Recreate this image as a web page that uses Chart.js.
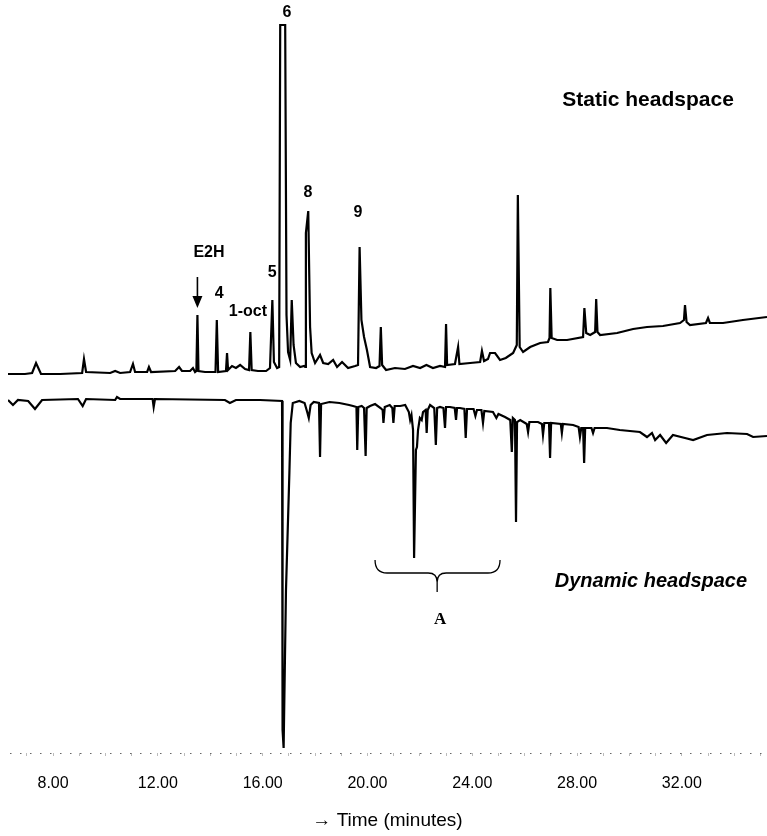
<!DOCTYPE html>
<html>
<head>
<meta charset="utf-8">
<title>Static vs dynamic headspace chromatogram</title>
<script src="https://cdn.jsdelivr.net/npm/chart.js@4.4.1/dist/chart.umd.min.js"></script>
<style>
    html, body { margin: 0; padding: 0; background: #fff; }
    #wrap { width: 767px; height: 836px; position: relative; }
</style>
</head>
<body>
<div id="wrap"><canvas id="chromChart"></canvas></div>
<script>
// Retention time (minutes) and detector response.
// Static headspace is plotted upwards, dynamic headspace mirrored downwards.
const staticTime = [
    6.28, 6.93, 7.20, 7.35, 7.54, 8.27, 9.11, 9.18, 9.26, 10.18, 10.37, 10.56, 10.94, 11.05, 11.13,
    11.59, 11.66, 11.74, 12.66, 12.81, 12.92, 13.23, 13.34, 13.42, 13.47, 13.51, 13.55, 13.80,
    14.20, 14.25, 14.30, 14.60, 14.64, 14.68, 14.83, 14.98, 15.14, 15.33, 15.48, 15.53, 15.58,
    15.82, 16.13, 16.28, 16.37, 16.43, 16.55, 16.63, 16.67, 16.71, 16.83, 16.86, 16.91, 16.97,
    17.05, 17.11, 17.18, 17.27, 17.43, 17.58, 17.62, 17.65, 17.74, 17.81, 17.87, 18.00, 18.19,
    18.31, 18.50, 18.69, 18.84, 19.03, 19.26, 19.53, 19.64, 19.70, 19.77, 19.87, 19.98, 20.10,
    20.33, 20.46, 20.51, 20.56, 20.71, 21.05, 21.43, 21.74, 22.01, 22.25, 22.50, 22.77, 22.96,
    23.00, 23.04, 23.34, 23.46, 23.51, 23.92, 24.30, 24.37, 24.45, 24.60, 24.68, 24.87, 25.06,
    25.28, 25.56, 25.70, 25.74, 25.81, 25.94, 26.21, 26.59, 26.89, 26.95, 26.98, 27.03, 27.24,
    27.62, 28.23, 28.28, 28.35, 28.50, 28.69, 28.73, 28.78, 28.88, 29.53, 30.14, 30.67, 31.28,
    31.93, 32.08, 32.12, 32.18, 32.31, 32.92, 33.00, 33.07, 33.57, 34.33, 35.25
];
const staticSignal = [
    16, 16, 17, 27, 16, 16, 17, 31, 18, 17, 19, 17, 18, 26, 18,
    18, 23, 18, 19, 23, 19, 19, 22, 18, 19, 75, 19, 18,
    18, 70, 18, 19, 37, 20, 24, 22, 25, 21, 20, 58, 20,
    19, 19, 22, 90, 28, 22, 23, 365, 365, 365, 365, 75, 38,
    30, 90, 45, 27, 23, 24, 23, 157, 179, 63, 37, 27, 35,
    27, 26, 30, 23, 28, 22, 24, 25, 143, 70, 53, 40, 23,
    22, 24, 63, 25, 20, 22, 21, 24, 22, 25, 22, 24, 23,
    66, 25, 26, 43, 26, 27, 28, 39, 29, 31, 37, 37, 30,
    32, 37, 45, 195, 43, 38, 43, 47, 48, 52, 102, 52, 50,
    50, 53, 82, 57, 55, 58, 91, 58, 55, 57, 61, 63, 64,
    67, 70, 85, 68, 65, 67, 72, 67, 67, 70, 73
];

const dynamicTime = [
    6.28, 6.47, 6.66, 7.05, 7.31, 7.58, 8.95, 9.13, 9.26, 10.37, 10.44, 10.56, 11.80, 11.84, 11.89,
    14.56, 14.75, 14.98, 15.90, 16.74, 16.76, 16.80, 16.89, 17.02, 17.07, 17.15, 17.40, 17.60,
    17.70, 17.76, 17.83, 17.95, 18.15, 18.19, 18.23, 18.55, 18.93, 19.30, 19.45, 19.58, 19.61,
    19.65, 19.78, 19.87, 19.93, 19.97, 20.10, 20.29, 20.50, 20.58, 20.61, 20.66, 20.85, 20.95,
    20.99, 21.04, 21.25, 21.44, 21.58, 21.63, 21.68, 21.74, 21.78, 21.85, 21.89, 21.93, 22.00,
    22.07, 22.12, 22.22, 22.26, 22.30, 22.39, 22.55, 22.61, 22.66, 22.77, 22.90, 22.96, 23.00,
    23.15, 23.33, 23.38, 23.42, 23.53, 23.70, 23.75, 23.80, 24.05, 24.12, 24.18, 24.35, 24.41,
    24.46, 24.79, 24.92, 25.00, 25.25, 25.45, 25.51, 25.55, 25.63, 25.67, 25.71, 25.83, 26.08,
    26.13, 26.18, 26.32, 26.51, 26.66, 26.70, 26.75, 26.93, 26.97, 27.01, 27.38, 27.42, 27.46,
    27.85, 28.06, 28.11, 28.16, 28.23, 28.27, 28.31, 28.55, 28.61, 28.67, 29.14, 29.63, 30.40,
    30.67, 30.86, 30.98, 31.17, 31.40, 31.66, 32.12, 32.43, 32.96, 33.72, 34.49, 34.72, 35.25
];
const dynamicSignal = [
    -10, -15, -10, -11, -19, -10, -9, -16, -9, -10, -7, -9, -9, -17, -9,
    -10, -13, -10, -10, -11, -340, -358, -200, -83, -33, -13, -11, -13,
    -22, -28, -15, -12, -13, -67, -14, -12, -13, -15, -16, -17, -60,
    -17, -16, -18, -66, -18, -16, -14, -18, -20, -33, -17, -15, -18,
    -33, -16, -16, -15, -22, -30, -25, -40, -168, -60, -57, -40, -28,
    -30, -22, -20, -43, -20, -15, -18, -55, -18, -17, -18, -38, -17,
    -17, -18, -30, -18, -18, -19, -48, -19, -19, -26, -20, -20, -33,
    -21, -22, -28, -24, -27, -30, -62, -28, -30, -132, -32, -30, -34,
    -42, -32, -32, -32, -34, -45, -33, -33, -68, -33, -34, -43, -34,
    -35, -37, -47, -38, -38, -73, -38, -38, -43, -38, -38, -40, -42,
    -47, -43, -50, -45, -53, -45, -48, -50, -45, -43, -44, -47, -46
];

const timeTicks = [8, 12, 16, 20, 24, 28, 32];

// Peak annotations: label, retention time and response level of the label.
const peakLabels = ['E2H', '4', '1-oct', '5', '6', '8', '9'];
const peakLabelTimes = [13.95, 14.34, 15.44, 16.36, 16.93, 17.73, 19.64];
const peakLabelLevels = [137, 96, 78, 117, 377, 197, 177];

function buildPoints(times, values) {
    return times.map((t, i) => ({ x: t, y: values[i] }));
}

const annotationPlugin = {
    id: 'chromAnnotations',
    beforeDatasetsDraw(chart) {
        // dotted time axis line
        const ctx = chart.ctx;
        const area = chart.chartArea;
        ctx.save();
        ctx.strokeStyle = '#666';
        ctx.lineWidth = 1;
        ctx.setLineDash([1.5, 8.5]);
        ctx.beginPath();
        ctx.moveTo(area.left + 2, area.bottom + 0.5);
        ctx.lineTo(area.right, area.bottom + 0.5);
        ctx.stroke();
        ctx.restore();
    },
    afterDatasetsDraw(chart) {
        const ctx = chart.ctx;
        const xs = chart.scales.x;
        const ys = chart.scales.y;
        const px = t => xs.getPixelForValue(t);
        const py = v => ys.getPixelForValue(v);

        ctx.save();
        ctx.fillStyle = '#000';
        ctx.strokeStyle = '#000';
        ctx.textAlign = 'center';
        ctx.textBaseline = 'middle';

        // peak labels
        ctx.font = 'bold 16px "Liberation Sans", Arial, sans-serif';
        peakLabels.forEach((label, i) => {
            ctx.fillText(label, px(peakLabelTimes[i]), py(peakLabelLevels[i]));
        });

        // arrow pointing at E2H
        const ax = px(13.51);
        ctx.lineWidth = 1.6;
        ctx.beginPath();
        ctx.moveTo(ax, py(113));
        ctx.lineTo(ax, py(92));
        ctx.stroke();
        ctx.beginPath();
        ctx.moveTo(ax - 5, py(94));
        ctx.lineTo(ax + 5, py(94));
        ctx.lineTo(ax, py(82));
        ctx.closePath();
        ctx.fill();

        // trace titles
        ctx.font = 'bold 21px "Liberation Sans", Arial, sans-serif';
        ctx.fillText('Static headspace', px(30.71), py(290));
        ctx.font = 'italic bold 20px "Liberation Sans", Arial, sans-serif';
        ctx.fillText('Dynamic headspace', px(30.82), py(-191));

        // brace under region A
        const x0 = px(20.29), x1 = px(25.06), xc = px(22.66);
        const yTop = py(-170), yMid = py(-183), yTip = py(-202);
        ctx.lineWidth = 1.3;
        ctx.beginPath();
        ctx.moveTo(x0, yTop);
        ctx.quadraticCurveTo(x0, yMid, x0 + 12, yMid);
        ctx.lineTo(xc - 9, yMid);
        ctx.quadraticCurveTo(xc, yMid, xc, yMid + 9);
        ctx.lineTo(xc, yTip);
        ctx.moveTo(xc, yMid + 9);
        ctx.quadraticCurveTo(xc, yMid, xc + 9, yMid);
        ctx.lineTo(x1 - 12, yMid);
        ctx.quadraticCurveTo(x1, yMid, x1, yTop);
        ctx.stroke();

        ctx.font = 'bold 17px "Liberation Serif", "Times New Roman", serif';
        ctx.fillText('A', px(22.77), py(-230));
        ctx.restore();
    }
};

const ctx = document.getElementById('chromChart').getContext('2d');
new Chart(ctx, {
    type: 'line',
    data: {
        datasets: [
            {
                label: 'Static headspace',
                data: buildPoints(staticTime, staticSignal),
                borderColor: '#000',
                borderWidth: 2.2,
                pointRadius: 0,
                tension: 0,
                fill: false
            },
            {
                label: 'Dynamic headspace',
                data: buildPoints(dynamicTime, dynamicSignal),
                borderColor: '#000',
                borderWidth: 2.2,
                pointRadius: 0,
                tension: 0,
                fill: false
            }
        ]
    },
    options: {
        responsive: true,
        maintainAspectRatio: false,
        animation: false,
        layout: { padding: { left: 8, right: 0, top: 0, bottom: 0 } },
        plugins: {
            legend: { display: false },
            tooltip: { enabled: false }
        },
        scales: {
            x: {
                type: 'linear',
                min: 6.28,
                max: 35.25,
                afterFit: scale => {
                    scale.height = 83;
                    scale.paddingLeft = 0;
                    scale.paddingRight = 0;
                },
                border: { display: false },
                grid: { drawOnChartArea: false, drawTicks: true, tickLength: 3, color: '#bbb' },
                ticks: {
                    stepSize: 1,
                    autoSkip: false,
                    includeBounds: false,
                    maxRotation: 0,
                    padding: 18,
                    color: '#000',
                    font: { family: '"Liberation Sans", Arial, sans-serif', size: 16 },
                    callback: value => timeTicks.includes(value) ? value.toFixed(2) : ''
                },
                title: {
                    display: true,
                    text: '\u2192 Time (minutes)',
                    color: '#000',
                    font: { family: '"Liberation Sans", Arial, sans-serif', size: 19 },
                    padding: { top: 4, bottom: 4 }
                }
            },
            y: {
                display: false,
                min: -363,
                max: 390
            }
        }
    },
    plugins: [annotationPlugin]
});
</script>
</body>
</html>
